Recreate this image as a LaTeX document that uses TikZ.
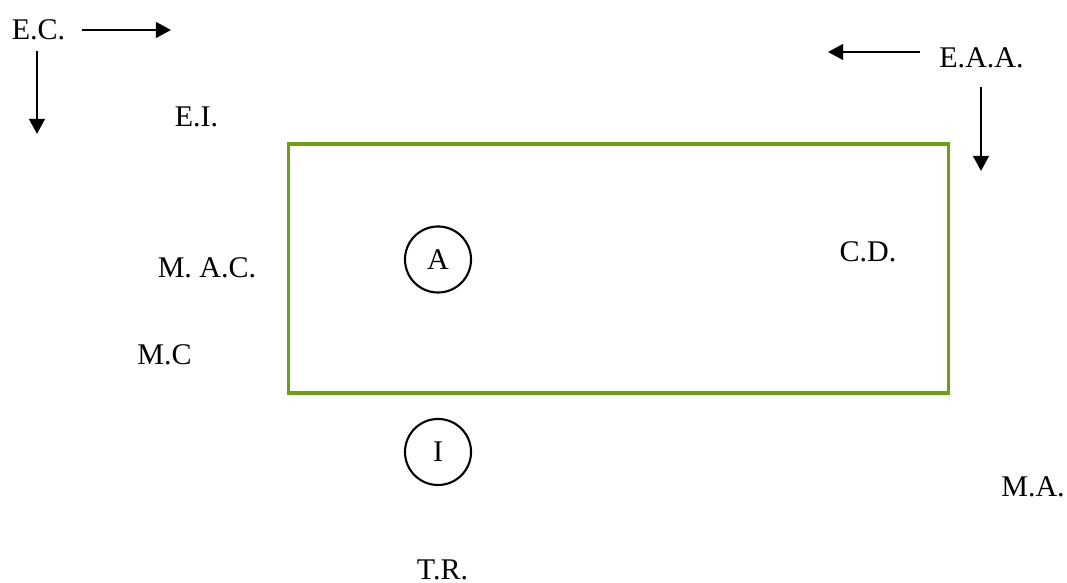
\documentclass[tikz,border=0pt]{standalone}
\usepackage{fontspec}
\setmainfont{Liberation Serif}
\usetikzlibrary{arrows.meta}
\definecolor{boxgreen}{RGB}{108,160,12}
\begin{document}
\begin{tikzpicture}[x=0.01cm,y=-0.01cm,
  lbl/.style={anchor=base,inner sep=0pt,font=\fontsize{8.54}{10}\selectfont},
  circ/.style={circle,draw,line width=0.6pt,minimum size=0.66cm,inner sep=0pt,font=\fontsize{8.54}{10}\selectfont},
  arr/.style={line width=0.7pt,-{Triangle[length=0.15cm,width=0.155cm]}}]
\useasboundingbox (0,0) rectangle (1067,583);
% box
\node[draw=boxgreen,line width=0.95pt,minimum width=6.59cm,minimum height=2.49cm,inner sep=0pt] (box) at (618.5,268.5) {};
% labels
\node[lbl] (ec) at (38.5,40) {E.C.};
\node[lbl] (ei) at (196.5,127) {E.I.};
\node[lbl] (eaa) at (981.5,68) {E.A.A.};
\node[lbl] (mac) at (207,278) {M. A.C.};
\node[lbl] (mc) at (164.5,365) {M.C};
\node[lbl] (cd) at (868,262) {C.D.};
\node[lbl] (ma) at (1033,497) {M.A.};
\node[lbl] (tr) at (442.5,580) {T.R.};
% circles
\node[circ] (a) at (438,259.5) {A};
\node[circ] (i) at (438,452) {I};
% arrows
\coordinate (ecR1) at (82,30);
\coordinate (ecR2) at (171,30);
\coordinate (ecD1) at (37,51);
\coordinate (ecD2) at (37,134);
\coordinate (eaaL1) at (920,52);
\coordinate (eaaL2) at (828,52);
\coordinate (eaaD1) at (981,87);
\coordinate (eaaD2) at (981,171);
\draw[arr] (ecR1) -- (ecR2);
\draw[arr] (ecD1) -- (ecD2);
\draw[arr] (eaaL1) -- (eaaL2);
\draw[arr] (eaaD1) -- (eaaD2);
\end{tikzpicture}
\end{document}
